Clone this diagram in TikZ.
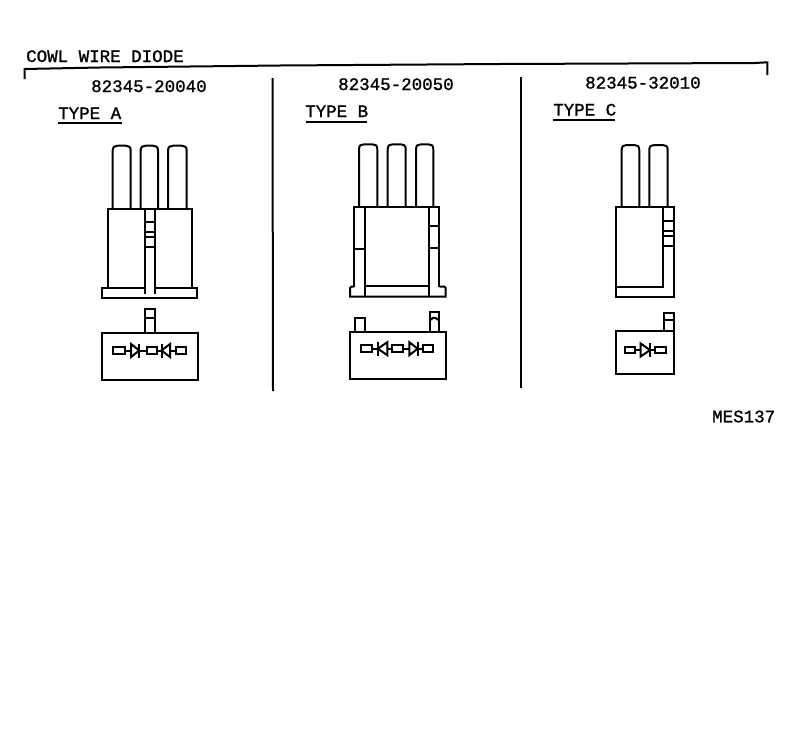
\documentclass[tikz,border=0pt]{standalone}
\usepackage{fontspec}
\setmainfont[RawFeature={embolden=1.1}]{Liberation Mono}
\tikzset{
  ink/.style={draw=black,line width=2pt,line join=miter},
  lbl/.style={inner sep=0pt,anchor=base west,font=\fontsize{17.5}{18}\selectfont,text=black},
}
% pin: left, right, top, bottom
\newcommand{\wirepin}[4]{\draw[ink] (#1,#4) -- (#1,#3+5) .. controls (#1,#3+1) and (#1+2,#3) .. (#1+5,#3) -- (#2-5,#3) .. controls (#2-2,#3) and (#2,#3+1) .. (#2,#3+5) -- (#2,#4);}
% rectangle cell, centre y
\newcommand{\cellbox}[3]{\draw[ink] (#1,#3-3.3) rectangle (#2,#3+3.3);}
% diode: base x, bar x, centre y
\newcommand{\diodesym}[3]{\draw[ink] (#1,#3-6.5) -- (#1,#3+6.5) -- (#2,#3) -- cycle; \draw[ink] (#2,#3-7) -- (#2,#3+7);}
\begin{document}
\begin{tikzpicture}[x=1pt,y=-1pt]
\useasboundingbox (0,0) rectangle (792,734);
\fill[white] (0,0) rectangle (792,734);
% header
\node[lbl] (title) at (26,62) {COWL WIRE DIODE};
\draw[ink] (24.5,79) -- (24.5,69) -- (100,67.5) -- (280,65.5) -- (500,64) -- (755,63) -- (767.3,62.3) -- (767.3,75);
\draw[ink] (272.5,78) -- (273,391);
\draw[ink] (520.5,76.5) -- (520.5,388);
\node[lbl] (pa) at (91,92) {82345-20040};
\node[lbl] (pb) at (338,90) {82345-20050};
\node[lbl] (pc) at (585,88.5) {82345-32010};
\node[lbl] (ta) at (58,119) {TYPE A};
\node[lbl] (tb) at (305,117) {TYPE B};
\node[lbl] (tc) at (553,115.5) {TYPE C};
\draw[ink] (58,122.5) -- (122,122.5);
\draw[ink] (306,122) -- (367,122);
\draw[ink] (553,119.7) -- (615,119.7);
% ===== TYPE A
\wirepin{112.7}{130.7}{145.7}{208}
\wirepin{140.7}{158}{145.7}{208}
\wirepin{168}{186.7}{145.7}{208}
\draw[ink] (107.5,288) -- (107.5,208.5) -- (192,208.5) -- (192,288);
\draw[ink] (144.5,288) -- (101.7,288) -- (101.7,297.5) -- (197.3,297.5) -- (197.3,288) -- (155,288);
\draw[ink] (144.5,208.5) -- (144.5,294);
\draw[ink] (155,208.5) -- (155,294);
\foreach \yy in {221.7,231.7,236.7,246.7} \draw[ink] (144.5,\yy) -- (155,\yy);
\draw[ink] (145,333) -- (145,309) -- (155,309) -- (155,333);
\draw[ink] (145,318) -- (155,318);
\draw[ink] (101.7,333.3) rectangle (197.7,380);
\draw[ink] (125,350.5) -- (131,350.5) (139.3,350.5) -- (146.7,350.5) (156.7,350.5) -- (161,350.5) (170,350.5) -- (176,350.5);
\cellbox{113.3}{125}{350.5}
\diodesym{131}{139.3}{350.5}
\cellbox{146.7}{156.7}{350.5}
\diodesym{170}{161.5}{350.5}
\cellbox{176}{186}{350.5}
% ===== TYPE B
\wirepin{359}{377.3}{144.3}{206.7}
\wirepin{387.7}{405.7}{144.3}{206.7}
\wirepin{416}{433.3}{144.3}{206.7}
\draw[ink] (354,286.5) -- (354,206.7) -- (439.3,206.7) -- (439.3,286.5);
\draw[ink] (354,286.5) -- (351.5,286.5) -- (350,288) -- (350,296.7) -- (445.7,296.7) -- (445.7,288) -- (444.2,286.5) -- (439.3,286.5);
\draw[ink] (365,206.7) -- (365,296.7);
\draw[ink] (429.3,206.7) -- (429.3,296.7);
\draw[ink] (365,285.7) -- (429.3,285.7);
\draw[ink] (354,249.3) -- (365,249.3);
\draw[ink] (429.3,225.7) -- (439.3,225.7);
\draw[ink] (429.3,248.3) -- (439.3,248.3);
\draw[ink] (355,331.7) -- (355,318.3) -- (365,318.3) -- (365,331.7);
\draw[ink] (430,331.7) -- (430,311.7) -- (439.3,311.7) -- (439.3,331.7);
\draw[ink] (431,320) .. controls (432,317) and (436,317) .. (438,320);
\draw[ink] (350,331.7) rectangle (445.7,378.5);
\draw[ink] (371.7,348.7) -- (377.3,348.7) (387.3,348.7) -- (392.3,348.7) (403.3,348.7) -- (409.3,348.7) (417.7,348.7) -- (423.3,348.7);
\cellbox{361}{371.7}{348.7}
\diodesym{387.3}{377.8}{348.7}
\cellbox{392.3}{403.3}{348.7}
\diodesym{409.3}{417.7}{348.7}
\cellbox{423.3}{433.3}{348.7}
% ===== TYPE C
\wirepin{621.7}{639.3}{145}{207}
\wirepin{649.3}{667.7}{145}{207}
\draw[ink] (674,207) -- (615.7,207) -- (615.7,296.7) -- (674,296.7) -- cycle;
\draw[ink] (663.3,207) -- (663.3,286.7) -- (615.7,286.7);
\foreach \yy in {221,231,235.7,245.7} \draw[ink] (663.3,\yy) -- (674,\yy);
\draw[ink] (664,330.7) -- (664,313.3) -- (674,313.3) -- (674,330.7);
\draw[ink] (664,320) -- (674,320);
\draw[ink] (615.7,330.7) rectangle (674,373.5);
\draw[ink] (635,350) -- (640.7,350) (650,350) -- (655,350);
\cellbox{625}{635}{350}
\diodesym{640.7}{650}{350}
\cellbox{655}{665.7}{350}
% code
\node[lbl] (code) at (712,422.3) {MES137};
\end{tikzpicture}
\end{document}
